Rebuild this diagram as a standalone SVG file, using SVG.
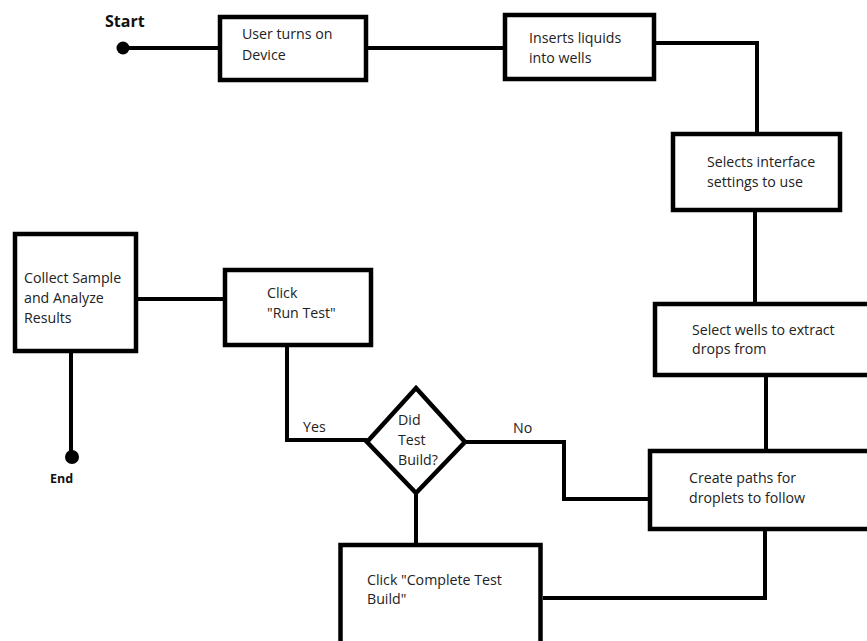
<svg xmlns="http://www.w3.org/2000/svg" width="867" height="641" viewBox="0 0 867 641">
<style>
.box{fill:#fff;stroke:#000;stroke-width:4.5}
.ln{fill:none;stroke:#000;stroke-width:4}
.t{font-family:"Open Sans","Noto Sans",sans-serif;font-size:14.2px;fill:#222}
.b{font-family:"Open Sans","Noto Sans",sans-serif;font-weight:bold;fill:#111}
</style>
<rect width="867" height="641" fill="#fff"/>
<g id="connectors">
<path class="ln" d="M124,48 H218"/>
<path class="ln" d="M368,48 H503"/>
<path class="ln" d="M656,43 H757 V132"/>
<path class="ln" d="M755,212 V302"/>
<path class="ln" d="M766,377 V449"/>
<path class="ln" d="M765,531 V598 H543"/>
<path class="ln" d="M416,493 V543"/>
<path class="ln" d="M465,442 H564 V499 H648"/>
<path class="ln" d="M367,440 H287 V347"/>
<path class="ln" d="M223,299 H138"/>
<path class="ln" d="M71,353 V457"/>
<text class="t" x="303" y="432">Yes</text>
<text class="t" x="513" y="433">No</text>
</g>
<g id="start">
<circle cx="123" cy="48" r="6.5"/>
<text class="b" x="105" y="27" font-size="16">Start</text>
</g>
<g id="n1">
<rect class="box" x="220" y="17" width="146" height="63"/>
<text class="t" x="242" y="39">User turns on</text>
<text class="t" x="242" y="60">Device</text>
</g>
<g id="n2">
<rect class="box" x="505" y="15" width="149" height="64"/>
<text class="t" x="529" y="43">Inserts liquids</text>
<text class="t" x="529" y="63">into wells</text>
</g>
<g id="n3">
<rect class="box" x="673" y="134" width="167" height="76"/>
<text class="t" x="707" y="167">Selects interface</text>
<text class="t" x="707" y="187">settings to use</text>
</g>
<g id="n4">
<rect class="box" x="655" y="304" width="240" height="71"/>
<text class="t" x="692" y="335">Select wells to extract</text>
<text class="t" x="692" y="354">drops from</text>
</g>
<g id="n5">
<rect class="box" x="650" y="451" width="240" height="78"/>
<text class="t" x="689" y="483">Create paths for</text>
<text class="t" x="689" y="503">droplets to follow</text>
</g>
<g id="n6">
<rect class="box" x="340.5" y="545" width="200" height="120"/>
<text class="t" x="367" y="585">Click "Complete Test</text>
<text class="t" x="367" y="604">Build"</text>
</g>
<g id="decision">
<polygon class="box" points="416,388 465,442 416,493 367,442"/>
<text class="t" x="398" y="425">Did</text>
<text class="t" x="398" y="445">Test</text>
<text class="t" x="398" y="465">Build?</text>
</g>
<g id="n7">
<rect class="box" x="225" y="270" width="146" height="75"/>
<text class="t" x="267" y="298">Click</text>
<text class="t" x="267" y="318">"Run Test"</text>
</g>
<g id="n8">
<rect class="box" x="15" y="234" width="121" height="117"/>
<text class="t" x="24" y="283">Collect Sample</text>
<text class="t" x="24" y="303">and Analyze</text>
<text class="t" x="24" y="323">Results</text>
</g>
<g id="end">
<circle cx="72" cy="457" r="7"/>
<text class="b" x="50" y="483" font-size="12.5">End</text>
</g>
</svg>
